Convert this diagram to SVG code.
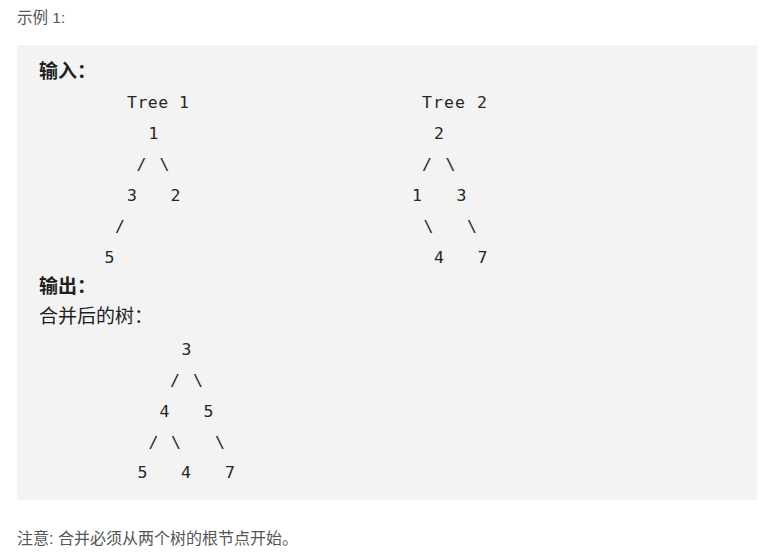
<svg xmlns="http://www.w3.org/2000/svg" width="782" height="560" viewBox="0 0 782 560">
<style>
.hd{font-family:"Liberation Sans","Noto Sans CJK SC",sans-serif;font-size:16px;fill:#555555}
.lb{font-family:"Liberation Sans","Noto Sans CJK SC",sans-serif;font-size:19px;fill:#1f1f1f}
.b{font-weight:bold}
.m{font-family:"DejaVu Sans Mono","Liberation Mono",monospace;font-size:16.5px;fill:#262626;text-anchor:middle}
.ms{font-family:"DejaVu Sans Mono","Liberation Mono",monospace;font-size:16.5px;fill:#262626}
</style>
<rect width="782" height="560" fill="#ffffff"/>
<g id="header"><text class="hd" x="17" y="23" style="font-size:15.5px">示例 1:</text></g>
<g id="codeblock">
<rect x="17" y="45" width="740" height="455" fill="#f3f3f3"/>
<text class="lb b" x="39" y="78">输入：</text>
<text class="lb b" x="39" y="293">输出：</text>
<text class="lb" x="39" y="323">合并后的树：</text>
</g>
<g id="tree1">
<text class="ms" x="127" y="108" textLength="62">Tree 1</text>
<text class="m" x="153.5" y="139">1</text>
<text class="m" x="141.5" y="170">/</text>
<text class="m" x="164.5" y="170">\</text>
<text class="m" x="132" y="201">3</text>
<text class="m" x="175.5" y="201">2</text>
<text class="m" x="120" y="232">/</text>
<text class="m" x="109.5" y="263">5</text>
</g>
<g id="tree2">
<text class="ms" x="422" y="108" textLength="65">Tree 2</text>
<text class="m" x="439" y="139">2</text>
<text class="m" x="427" y="170">/</text>
<text class="m" x="450.5" y="170">\</text>
<text class="m" x="417" y="201">1</text>
<text class="m" x="461.5" y="201">3</text>
<text class="m" x="428.5" y="232">\</text>
<text class="m" x="472" y="232">\</text>
<text class="m" x="439" y="263">4</text>
<text class="m" x="482.5" y="263">7</text>
</g>
<g id="merged">
<text class="m" x="186.5" y="355">3</text>
<text class="m" x="175" y="386">/</text>
<text class="m" x="198" y="386">\</text>
<text class="m" x="164.5" y="417">4</text>
<text class="m" x="208.5" y="417">5</text>
<text class="m" x="153.5" y="448">/</text>
<text class="m" x="176" y="448">\</text>
<text class="m" x="220" y="448">\</text>
<text class="m" x="142.5" y="478">5</text>
<text class="m" x="186" y="478">4</text>
<text class="m" x="230" y="478">7</text>
</g>
<g id="note"><text class="hd" x="17" y="544">注意: 合并必须从两个树的根节点开始。</text></g>
</svg>
